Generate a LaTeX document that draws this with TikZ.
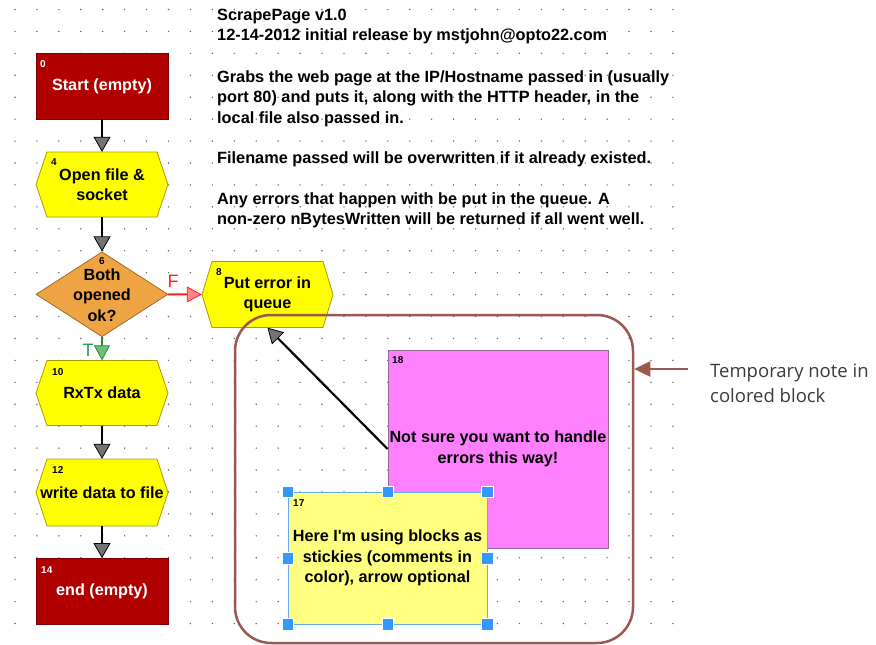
\documentclass[tikz,border=0pt]{standalone}
\usepackage{fontspec}
\setmainfont{Liberation Sans}
\newfontfamily\plainsans{Liberation Sans}
\newfontfamily\notefont{Open Sans}
\usetikzlibrary{arrows.meta,shapes.geometric,calc}
\definecolor{blkred}{HTML}{B00000}
\definecolor{blkredb}{HTML}{7A0000}
\definecolor{blkyel}{HTML}{FFFF00}
\definecolor{blkyelb}{HTML}{A89C00}
\definecolor{blkorg}{HTML}{EFA443}
\definecolor{blkorgb}{HTML}{A06A2A}
\definecolor{blkpink}{HTML}{FF80FF}
\definecolor{blkpinkb}{HTML}{9A6A9A}
\definecolor{stickyy}{HTML}{FFFF80}
\definecolor{stickyb}{HTML}{66AAEE}
\definecolor{handleb}{HTML}{3399FF}
\definecolor{grpbrown}{HTML}{9C5850}
\definecolor{tipgray}{HTML}{737373}
\definecolor{tgreen}{HTML}{1E8C2E}
\definecolor{tgreenl}{HTML}{6CC07A}
\definecolor{fred}{HTML}{FF2020}
\definecolor{fredl}{HTML}{FF8888}
\definecolor{notegray}{HTML}{3A3A3A}
\newcommand\hexblock[7]{% name, cx, cy, half-width, half-height, indent, text
  \filldraw[hexsty] (#2-#4,#3) -- (#2-#4+#6,#3-#5) -- (#2+#4-#6,#3-#5) -- (#2+#4,#3)
     -- (#2+#4-#6,#3+#5) -- (#2-#4+#6,#3+#5) -- cycle;
  \node[blocktext, minimum width=2*#4pt, minimum height=2*#5pt] (#1) at (#2,#3) {#7};}
\tikzset{
  x=1pt, y=-1pt,
  hexsty/.style={fill=blkyel, draw=blkyelb, line width=0.8pt},
  blocktext/.style={font=\fontsize{16.2}{20.5}\selectfont\bfseries, align=center, inner sep=0pt, text=black},
  redblk/.style={fill=blkred, draw=blkredb, line width=0.8pt, minimum width=132pt, minimum height=66pt,
     inner sep=0pt, text=white, font=\fontsize{16.2}{20.5}\selectfont\bfseries},
  num/.style={font=\fontsize{10}{10}\selectfont\bfseries, inner sep=0pt, anchor=west},
  hdr/.style={font=\fontsize{16.3}{20.5}\selectfont\bfseries, inner sep=0pt, anchor=base west},
  flow/.style={line width=2.2pt, draw=black,
     -{Triangle[width=17pt,length=15pt,fill=tipgray,line width=0.8pt]}},
  flowf/.style={line width=2pt, draw=fred,
     -{Triangle[width=16pt,length=15pt,fill=fredl,line width=0.8pt]}},
  flowt/.style={line width=2pt, draw=tgreen,
     -{Triangle[width=16pt,length=15pt,fill=tgreenl,line width=0.8pt]}},
  handle/.style={fill=handleb, draw=white, line width=0.5pt, minimum size=11.5pt, inner sep=0pt},
  note/.style={font=\notefont\fontsize{18.5}{22}\selectfont, text=notegray, inner sep=0pt, anchor=base west},
}
\begin{document}
\begin{tikzpicture}
\useasboundingbox (0,0) rectangle (876,645);
% dot grid
\foreach \i in {0,...,30}{
  \foreach \j in {0,...,28}{
    \fill[black!60] (15+\i*21.93, 9.5+\j*21.93) circle (0.8);
  }}
% header text
\node[hdr] (h1) at (217,20) {ScrapePage v1.0};
\node[hdr] (h2) at (217,40) {12-14-2012 initial release by mstjohn@opto22.com};
\node[hdr] (h3) at (217,82) {Grabs the web page at the IP/Hostname passed in (usually};
\node[hdr] (h4) at (217,102.5) {port 80) and puts it, along with the HTTP header, in the};
\node[hdr] (h5) at (217,123) {local file also passed in.};
\node[hdr] (h6) at (217,163.5) {Filename passed will be overwritten if it already existed.};
\node[hdr] (h7) at (217,204) {Any errors that happen with be put in the queue. A};
\node[hdr] (h8) at (217,224.5) {non-zero nBytesWritten will be returned if all went well.};
% blocks
\node[redblk] (start) at (102,86) {Start (empty)};
\node[num, text=white] (n0) at (40,64) {0};
\hexblock{open}{102}{184.5}{66}{32.5}{11}{Open file \&\\socket}
\node[num] (n4) at (51,162.5) {4};
\node[diamond, fill=blkorg, draw=blkorgb, line width=0.8pt, minimum width=132pt, minimum height=85pt,
      inner sep=0pt] (ok) at (102,294.3) {};
\node[blocktext] (oktext) at (102,295) {Both\\opened\\ok?};
\node[num, anchor=center] (n6) at (102,261) {6};
\hexblock{perr}{267.5}{294.5}{65.5}{33}{10}{Put error in\\queue}
\node[num] (n8) at (216,272) {8};
\hexblock{rxtx}{102}{393}{66}{32.5}{11}{RxTx data}
\node[num] (n10) at (52,372) {10};
\hexblock{wdata}{102}{492.5}{66}{33.5}{11}{write data to file}
\node[num] (n12) at (52,470) {12};
\node[redblk] (endb) at (102,591.5) {end (empty)};
\node[num, text=white] (n14) at (41,570) {14};
% connectors
\draw[flow] (start.south) -- (open.north);
\draw[flow] (open.south) -- (ok.north);
\draw[flowf] (ok.east) -- (perr.west);
\node[font=\fontsize{18}{18}\selectfont, text=fred, inner sep=0pt] (flab) at (173,281) {F};
\draw[flowt] (ok.south) -- (rxtx.north);
\node[font=\fontsize{18}{18}\selectfont, text=tgreen!80!cyan, inner sep=0pt] (tlab) at (88,350) {T};
\draw[flow] (rxtx.south) -- (wdata.north);
\draw[flow] (wdata.south) -- (endb.north);
% group box
\node[draw=grpbrown, line width=2.5pt, rounded corners=36pt, minimum width=398pt, minimum height=328pt,
      inner sep=0pt] (grp) at (434,479) {};
% pink note
\node[fill=blkpink, draw=blkpinkb, line width=0.8pt, minimum width=220pt, minimum height=198pt,
      inner sep=0pt] (pink) at (498,449) {};
\node[blocktext] (pinktext) at (498,449) {Not sure you want to handle\\errors this way!};
\node[num] (n18) at (392,360) {18};
\draw[flow] (pink.west) -- (perr.south);
% sticky
\node[fill=stickyy, draw=stickyb, line width=0.8pt, minimum width=199pt, minimum height=132pt,
      inner sep=0pt] (sticky) at (387.5,558) {};
\node[blocktext] (stext) at (387.5,558) {Here I{\plainsans '}m using blocks as\\stickies (comments in\\color), arrow optional};
\node[num] (n17) at (293,503) {17};
\foreach \a in {north west,north,north east,west,east,south west,south,south east}{
  \node[handle] at (sticky.\a) {};
}
% side note
\node[note] (nt1) at (710,377) {Temporary note in};
\node[note] (nt2) at (710,402) {colored block};
\coordinate (nstart) at (688,369);
\draw[line width=2.5pt, draw=grpbrown, -{Triangle[width=15pt,length=16pt]}] (nstart) -- (nstart -| grp.east);
\end{tikzpicture}
\end{document}
